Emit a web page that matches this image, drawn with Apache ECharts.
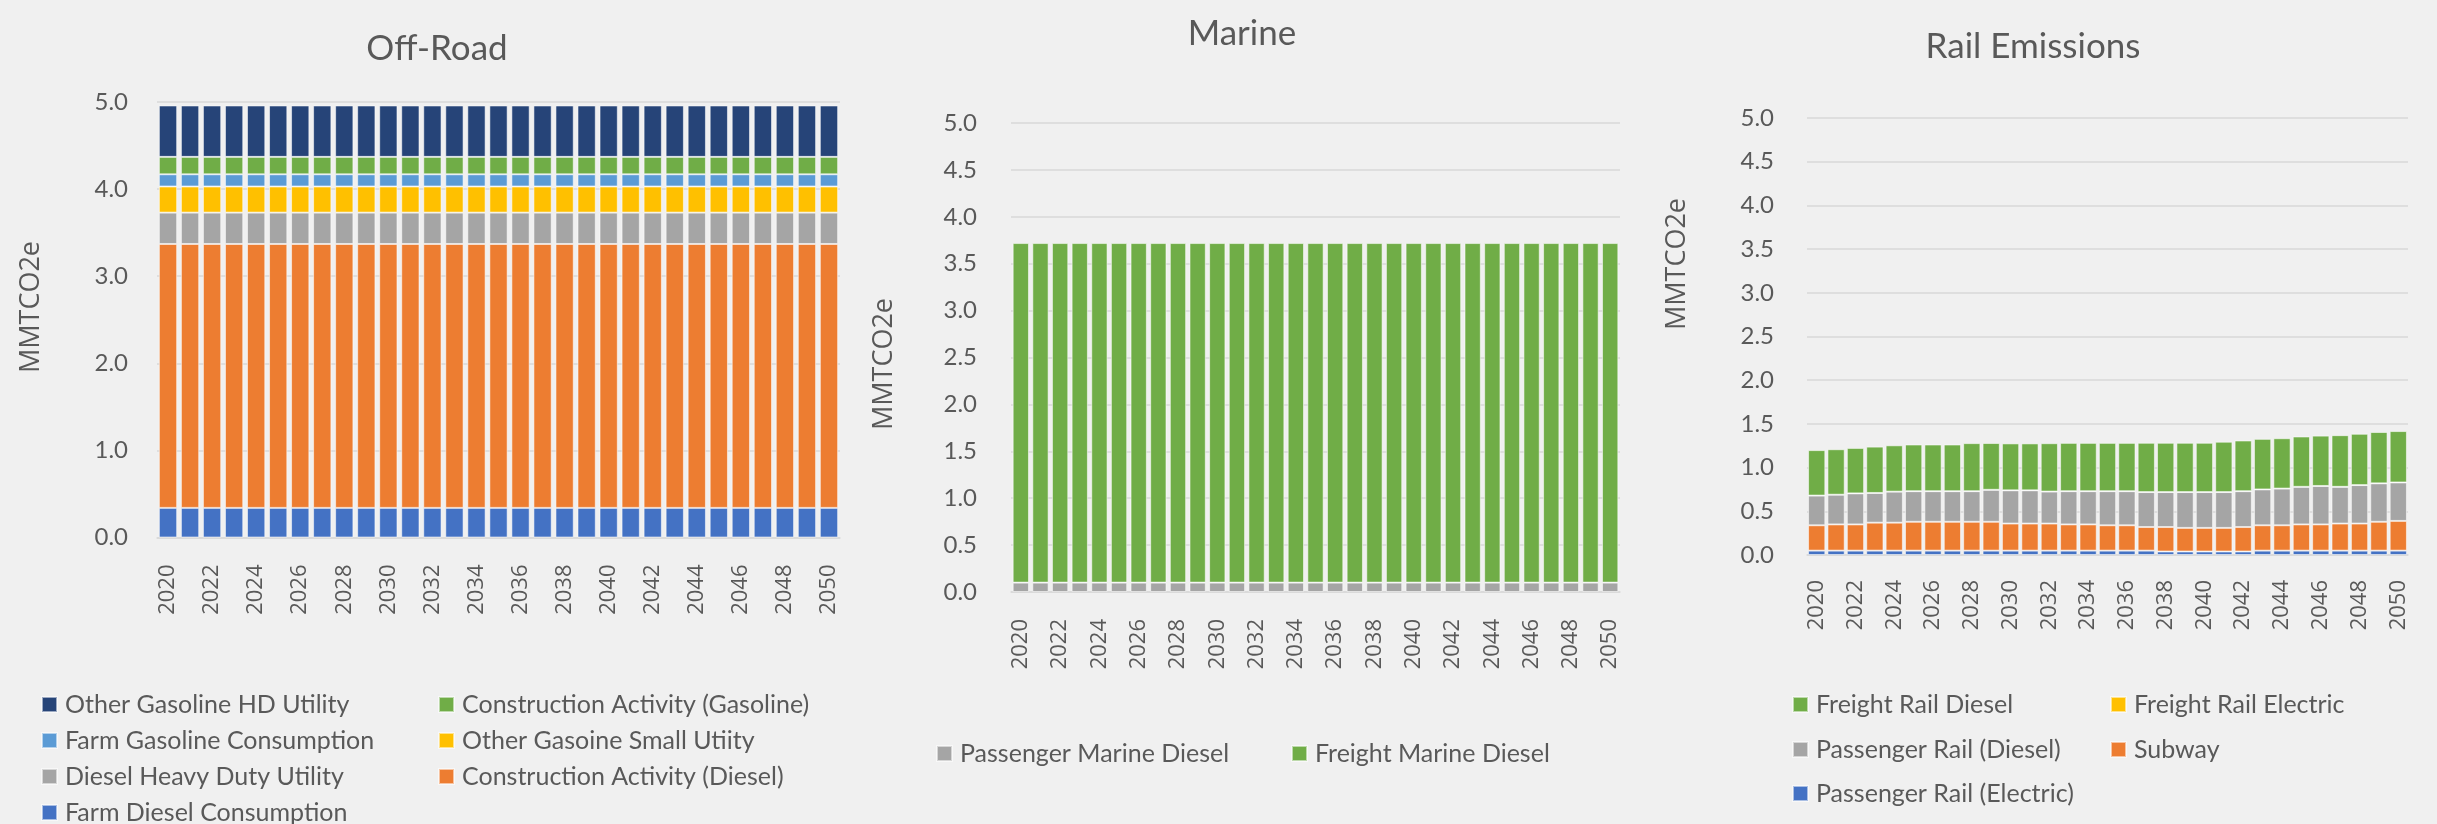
<!DOCTYPE html>
<html>
<head>
<meta charset="utf-8">
<title>Transportation Emissions: Off-Road, Marine, Rail</title>
<script src="https://cdn.jsdelivr.net/npm/echarts@6/dist/echarts.min.js"></script>
<style>
  html, body { margin: 0; padding: 0; background: #f0f0f0; }
  #chart { width: 2437px; height: 824px; }
</style>
</head>
<body>
<div id="chart"></div>
<script>
// Years on every category axis
const years = ['2020','2021','2022','2023','2024','2025','2026','2027','2028','2029','2030',
  '2031','2032','2033','2034','2035','2036','2037','2038','2039','2040',
  '2041','2042','2043','2044','2045','2046','2047','2048','2049','2050'];

// Off-Road emissions (MMTCO2e), stacked bottom to top
const farmDieselConsumption = [0.34,0.34,0.34,0.34,0.34,0.34,0.34,0.34,0.34,0.34,0.34,0.34,0.34,0.34,0.34,0.34,0.34,0.34,0.34,0.34,0.34,0.34,0.34,0.34,0.34,0.34,0.34,0.34,0.34,0.34,0.34];
const constructionDiesel = [3.03,3.03,3.03,3.03,3.03,3.03,3.03,3.03,3.03,3.03,3.03,3.03,3.03,3.03,3.03,3.03,3.03,3.03,3.03,3.03,3.03,3.03,3.03,3.03,3.03,3.03,3.03,3.03,3.03,3.03,3.03];
const dieselHeavyDutyUtility = [0.36,0.36,0.36,0.36,0.36,0.36,0.36,0.36,0.36,0.36,0.36,0.36,0.36,0.36,0.36,0.36,0.36,0.36,0.36,0.36,0.36,0.36,0.36,0.36,0.36,0.36,0.36,0.36,0.36,0.36,0.36];
const otherGasolineSmallUtility = [0.30,0.30,0.30,0.30,0.30,0.30,0.30,0.30,0.30,0.30,0.30,0.30,0.30,0.30,0.30,0.30,0.30,0.30,0.30,0.30,0.30,0.30,0.30,0.30,0.30,0.30,0.30,0.30,0.30,0.30,0.30];
const farmGasolineConsumption = [0.14,0.14,0.14,0.14,0.14,0.14,0.14,0.14,0.14,0.14,0.14,0.14,0.14,0.14,0.14,0.14,0.14,0.14,0.14,0.14,0.14,0.14,0.14,0.14,0.14,0.14,0.14,0.14,0.14,0.14,0.14];
const constructionGasoline = [0.20,0.20,0.20,0.20,0.20,0.20,0.20,0.20,0.20,0.20,0.20,0.20,0.20,0.20,0.20,0.20,0.20,0.20,0.20,0.20,0.20,0.20,0.20,0.20,0.20,0.20,0.20,0.20,0.20,0.20,0.20];
const otherGasolineHDUtility = [0.59,0.59,0.59,0.59,0.59,0.59,0.59,0.59,0.59,0.59,0.59,0.59,0.59,0.59,0.59,0.59,0.59,0.59,0.59,0.59,0.59,0.59,0.59,0.59,0.59,0.59,0.59,0.59,0.59,0.59,0.59];

// Marine emissions (MMTCO2e)
const passengerMarineDiesel = [0.10,0.10,0.10,0.10,0.10,0.10,0.10,0.10,0.10,0.10,0.10,0.10,0.10,0.10,0.10,0.10,0.10,0.10,0.10,0.10,0.10,0.10,0.10,0.10,0.10,0.10,0.10,0.10,0.10,0.10,0.10];
const freightMarineDiesel = [3.62,3.62,3.62,3.62,3.62,3.62,3.62,3.62,3.62,3.62,3.62,3.62,3.62,3.62,3.62,3.62,3.62,3.62,3.62,3.62,3.62,3.62,3.62,3.62,3.62,3.62,3.62,3.62,3.62,3.62,3.62];

// Rail emissions (MMTCO2e)
const passengerRailElectric = [0.05,0.05,0.05,0.05,0.05,0.05,0.05,0.05,0.05,0.05,0.05,0.05,0.05,0.05,0.05,0.05,0.05,0.05,0.04,0.04,0.04,0.04,0.04,0.05,0.05,0.05,0.05,0.05,0.05,0.05,0.05];
const subway = [0.29,0.30,0.30,0.32,0.32,0.33,0.33,0.33,0.33,0.33,0.31,0.31,0.31,0.30,0.30,0.29,0.29,0.27,0.28,0.27,0.27,0.27,0.28,0.29,0.29,0.30,0.30,0.31,0.31,0.33,0.34];
const passengerRailDiesel = [0.34,0.34,0.355,0.34,0.355,0.35,0.35,0.35,0.35,0.366,0.38,0.38,0.366,0.38,0.38,0.39,0.39,0.40,0.40,0.41,0.41,0.41,0.41,0.41,0.42,0.43,0.44,0.42,0.44,0.44,0.44];
const freightRailElectric = [0,0,0,0,0,0,0,0,0,0,0,0,0,0,0,0,0,0,0,0,0,0,0,0,0,0,0,0,0,0,0];
const freightRailDiesel = [0.52,0.52,0.52,0.53,0.53,0.534,0.534,0.534,0.55,0.535,0.537,0.537,0.553,0.553,0.553,0.553,0.553,0.564,0.564,0.564,0.564,0.576,0.58,0.579,0.576,0.576,0.576,0.591,0.587,0.587,0.588];

const TEXT = '#595959';
const GRID_LINE = '#d9d9d9';
const COLORS = {
  blue: '#4472C4', orange: '#ED7D31', gray: '#A5A5A5', yellow: '#FFC000',
  lightBlue: '#5B9BD5', green: '#70AD47', darkBlue: '#264478'
};

const chart = echarts.init(document.getElementById('chart'), null, { renderer: 'canvas' });

function xAxisFor(gridIndex, margin) {
  return {
    type: 'category', gridIndex, data: years,
    axisTick: { show: false },
    axisLine: { lineStyle: { color: GRID_LINE, width: 1.5 } },
    axisLabel: {
      interval: 1, rotate: 90, margin,
      fontFamily: 'Open Sans', fontSize: 22, color: TEXT
    }
  };
}

function yAxisFor(gridIndex, interval, margin) {
  return {
    type: 'value', gridIndex, min: 0, max: 5, interval,
    axisLine: { show: false }, axisTick: { show: false },
    splitLine: { lineStyle: { color: GRID_LINE, width: 1.5 } },
    axisLabel: {
      margin, fontFamily: 'Lato', fontSize: 24, color: TEXT,
      formatter: v => v.toFixed(1)
    }
  };
}

function barSeries(name, data, color, axisIndex, stack, gap) {
  return {
    name, type: 'bar', data, stack,
    xAxisIndex: axisIndex, yAxisIndex: axisIndex,
    barCategoryGap: gap,
    itemStyle: { color, borderColor: 'rgba(255,255,255,0.55)', borderWidth: 1 },
    emphasis: { disabled: true }
  };
}

// One legend entry placed at a given marker left edge and row centre
function legendItem(name, left, centerY) {
  return {
    data: [name], left, top: centerY - 11, orient: 'horizontal',
    padding: 0,
    itemWidth: 15, itemHeight: 15, icon: 'rect', selectedMode: false,
    textStyle: { fontFamily: 'Lato', fontSize: 25, lineHeight: 22, color: TEXT, padding: [0, 0, 0, 3] }
  };
}

function chartTitle(text, centerX, top) {
  return {
    text, left: centerX, top, textAlign: 'center', padding: 0,
    textStyle: { fontFamily: 'Lato', fontSize: 35, fontWeight: 'normal', color: TEXT }
  };
}

// Vertical value-axis caption, centred on (x, y)
function axisTitle(x, y) {
  return {
    type: 'text', x, y, rotation: Math.PI / 2, silent: true,
    style: {
      text: 'MMTCO2e', fontFamily: 'Open Sans', fontSize: 27, fill: TEXT,
      align: 'center', verticalAlign: 'middle'
    }
  };
}

const option = {
  backgroundColor: '#f0f0f0',
  animation: false,
  title: [
    chartTitle('Off-Road', 437, 31),
    chartTitle('Marine', 1242, 16),
    chartTitle('Rail Emissions', 2033, 29)
  ],
  graphic: [
    axisTitle(31, 307),
    axisTitle(884, 364),
    axisTitle(1677, 264)
  ],
  grid: [
    { left: 157, top: 102, width: 683, height: 435.5 },
    { left: 1011, top: 123, width: 609, height: 469 },
    { left: 1807, top: 118, width: 601, height: 437 }
  ],
  xAxis: [xAxisFor(0, 27), xAxisFor(1, 27), xAxisFor(2, 25)],
  yAxis: [yAxisFor(0, 1, 29), yAxisFor(1, 0.5, 34), yAxisFor(2, 0.5, 33)],
  legend: [
    legendItem('Other Gasoline HD Utility', 41, 703),
    legendItem('Farm Gasoline Consumption', 41, 739),
    legendItem('Diesel Heavy Duty Utility', 41, 775),
    legendItem('Farm Diesel Consumption', 41, 811),
    legendItem('Construction Activity (Gasoline)', 438, 703),
    legendItem('Other Gasoine Small Utiity', 438, 739),
    legendItem('Construction Activity (Diesel)', 438, 775),

    legendItem('Passenger Marine Diesel', 936, 752),
    legendItem('Freight Marine Diesel', 1291, 752),

    legendItem('Freight Rail Diesel', 1792, 703),
    legendItem('Passenger Rail (Diesel)', 1792, 748),
    legendItem('Passenger Rail (Electric)', 1792, 792),
    legendItem('Freight Rail Electric', 2110, 703),
    legendItem('Subway', 2110, 748)
  ],
  series: [
    barSeries('Farm Diesel Consumption', farmDieselConsumption, COLORS.blue, 0, 'offroad', '17%'),
    barSeries('Construction Activity (Diesel)', constructionDiesel, COLORS.orange, 0, 'offroad', '17%'),
    barSeries('Diesel Heavy Duty Utility', dieselHeavyDutyUtility, COLORS.gray, 0, 'offroad', '17%'),
    barSeries('Other Gasoine Small Utiity', otherGasolineSmallUtility, COLORS.yellow, 0, 'offroad', '17%'),
    barSeries('Farm Gasoline Consumption', farmGasolineConsumption, COLORS.lightBlue, 0, 'offroad', '17%'),
    barSeries('Construction Activity (Gasoline)', constructionGasoline, COLORS.green, 0, 'offroad', '17%'),
    barSeries('Other Gasoline HD Utility', otherGasolineHDUtility, COLORS.darkBlue, 0, 'offroad', '17%'),

    barSeries('Passenger Marine Diesel', passengerMarineDiesel, COLORS.gray, 1, 'marine', '17%'),
    barSeries('Freight Marine Diesel', freightMarineDiesel, COLORS.green, 1, 'marine', '17%'),

    barSeries('Passenger Rail (Electric)', passengerRailElectric, COLORS.blue, 2, 'rail', '11%'),
    barSeries('Subway', subway, COLORS.orange, 2, 'rail', '11%'),
    barSeries('Passenger Rail (Diesel)', passengerRailDiesel, COLORS.gray, 2, 'rail', '11%'),
    barSeries('Freight Rail Electric', freightRailElectric, COLORS.yellow, 2, 'rail', '11%'),
    barSeries('Freight Rail Diesel', freightRailDiesel, COLORS.green, 2, 'rail', '11%')
  ]
};

chart.setOption(option);
</script>
</body>
</html>
